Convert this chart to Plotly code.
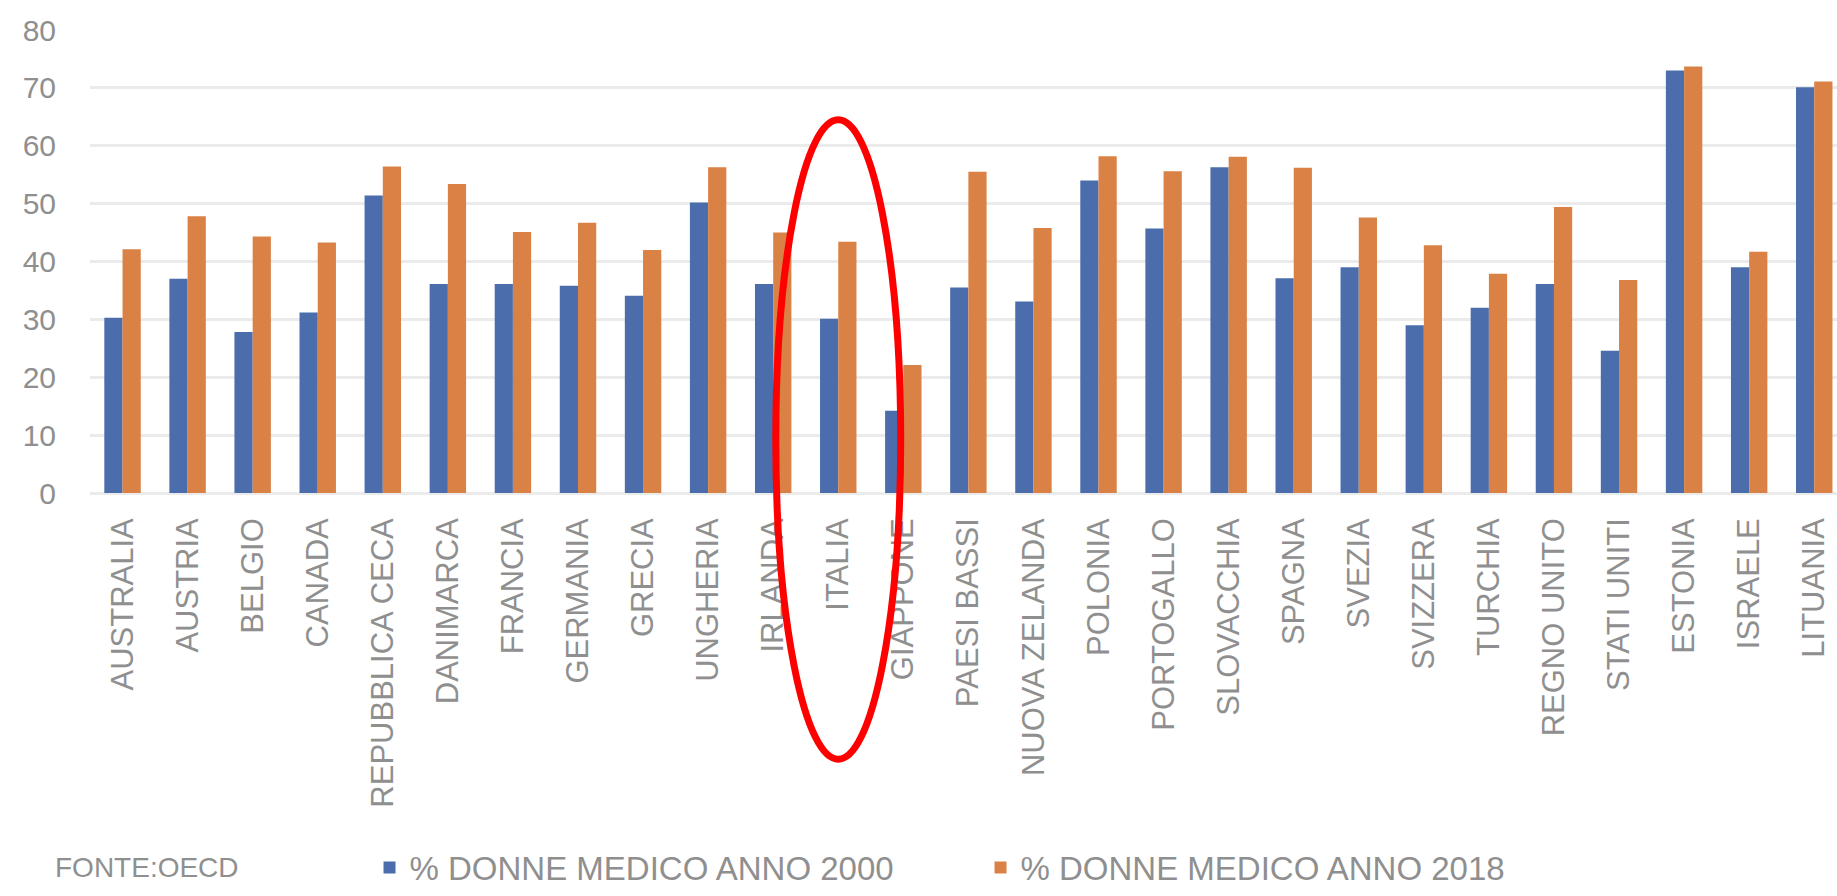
import plotly.graph_objects as go

countries = ["AUSTRALIA", "AUSTRIA", "BELGIO", "CANADA", "REPUBBLICA CECA", "DANIMARCA",
             "FRANCIA", "GERMANIA", "GRECIA", "UNGHERIA", "IRLANDA", "ITALIA", "GIAPPONE",
             "PAESI BASSI", "NUOVA ZELANDA", "POLONIA", "PORTOGALLO", "SLOVACCHIA", "SPAGNA",
             "SVEZIA", "SVIZZERA", "TURCHIA", "REGNO UNITO", "STATI UNITI", "ESTONIA",
             "ISRAELE", "LITUANIA"]
donne_2000 = [30.3, 37.0, 27.8, 31.2, 51.4, 36.1, 36.1, 35.8, 34.1, 50.2, 36.1, 30.1, 14.2,
              35.5, 33.1, 54.0, 45.7, 56.3, 37.1, 39.0, 29.0, 32.0, 36.1, 24.6, 73.0, 39.0, 70.1]
donne_2018 = [42.1, 47.8, 44.3, 43.3, 56.4, 53.4, 45.1, 46.7, 42.0, 56.3, 45.0, 43.4, 22.1,
              55.5, 45.8, 58.2, 55.6, 58.1, 56.2, 47.6, 42.8, 37.9, 49.4, 36.8, 73.7, 41.7, 71.1]
y_ticks = [0, 10, 20, 30, 40, 50, 60, 70, 80]
series_names = ["% DONNE MEDICO ANNO 2000", "% DONNE MEDICO ANNO 2018"]
source_text = "FONTE:OECD"
highlight = "ITALIA"

FONT = "Liberation Sans, Arial, sans-serif"
TXT = "#8f8f8f"
X_RANGE = [-0.5, 26.35]

fig = go.Figure()
fig.add_trace(go.Bar(x=countries, y=donne_2000, name=series_names[0],
                     marker=dict(color="#4C6DAB", line=dict(width=0))))
fig.add_trace(go.Bar(x=countries, y=donne_2018, name=series_names[1],
                     marker=dict(color="#DA8146", line=dict(width=0))))

# red ellipse around the highlighted category
idx = countries.index(highlight)
xc = (idx - X_RANGE[0]) / (X_RANGE[1] - X_RANGE[0])
half = 0.96 / (X_RANGE[1] - X_RANGE[0])
fig.add_shape(type="circle", xref="paper", yref="paper",
              x0=xc - half, x1=xc + half, y0=-0.575, y1=0.806,
              line=dict(color="#FF0000", width=7), layer="above")

fig.add_annotation(text=source_text, xref="paper", yref="paper",
                   x=-0.021, y=-0.809, xanchor="left", yanchor="middle",
                   showarrow=False, font=dict(family=FONT, size=28, color=TXT))

fig.update_layout(
    width=1837, height=896,
    margin=dict(l=90, r=0, t=30, b=396),
    paper_bgcolor="white", plot_bgcolor="white",
    barmode="group", bargap=0.44, bargroupgap=0.0,
    font=dict(family=FONT, color=TXT),
    legend=dict(orientation="h", x=0.160, xanchor="left", y=-0.809, yanchor="middle",
                font=dict(family=FONT, size=33, color=TXT),
                entrywidth=566, entrywidthmode="pixels", traceorder="normal"),
    xaxis=dict(range=X_RANGE, tickangle=-90, showgrid=False, ticks="", ticklen=0,
               tickfont=dict(family=FONT, size=31, color=TXT),
               ticklabelstandoff=18, showline=False, zeroline=False),
    yaxis=dict(range=[0, 80], tickvals=y_ticks, ticks="", showgrid=True,
               gridcolor="#ebebeb", gridwidth=3, zeroline=True, zerolinecolor="#ebebeb",
               zerolinewidth=3, showline=False,
               tickfont=dict(family=FONT, size=30, color=TXT), ticklabelstandoff=33),
)

fig.write_html("out.html")
